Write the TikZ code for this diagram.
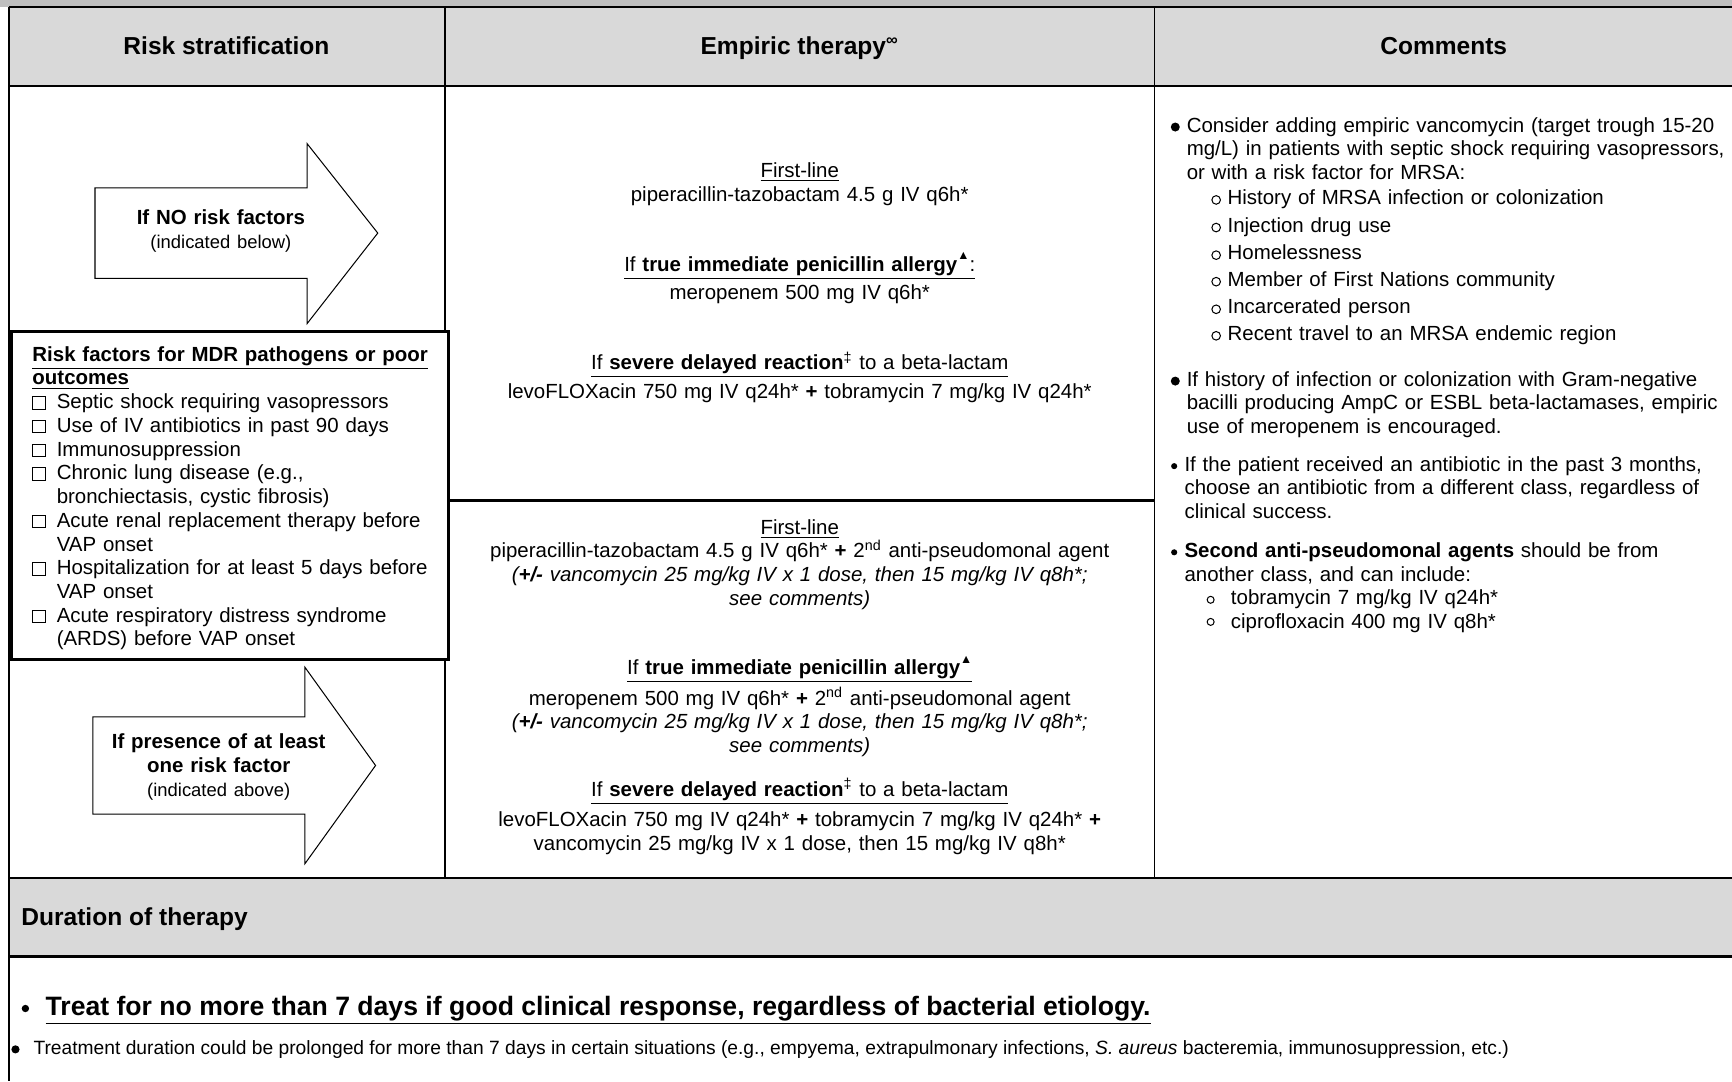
\documentclass[tikz,border=0pt]{standalone}
\usepackage{fontspec}
\setmainfont{Liberation Sans}
\usepackage{tikz}
\usepackage{xcolor}

\newcommand{\cbox}{{\fboxsep=0pt\fboxrule=0.5pt\fbox{\rule{0pt}{5.6pt}\rule{5.6pt}{0pt}}}}
\newcommand{\rfitem}[1]{\par\hangindent=11.9pt\hangafter=1\makebox[11.9pt][l]{\cbox}#1}
\newcommand{\uptri}{\raisebox{0.55em}{\fontsize{6}{6}\selectfont ▲}}

\begin{document}
\begin{tikzpicture}[x=0.54pt, y=-0.54pt,
  txt/.style={inner sep=0pt, anchor=base, font=\fontsize{10}{11.6}\selectfont},
  hdr/.style={inner sep=0pt, anchor=base, font=\bfseries\fontsize{12}{14}\selectfont},
  mid/.style={txt, text width=340pt, align=center},
  cmt/.style={txt, anchor=base west, text width=285pt, align=left},
  rulebold/.style={line width=1.1pt},
  bigarrow/.style={draw, fill=white, line width=0.5pt}]
  \useasboundingbox (0,0) rectangle (1568,979);
  % shaded bands
  \fill[gray!50] (0,0) rectangle (1568,6);
  \foreach \ya/\yb in {6/78, 795/866}
    \fill[gray!30] (8,\ya) rectangle (1568,\yb);
  % rules
  \foreach \y in {6,78,795,866}
    \draw[rulebold] (8,\y) -- (1568,\y);
  \draw[rulebold] (8,6) -- (8,979);
  \foreach \x in {403,1045}
    \draw[line width=0.7pt] (\x,6) -- (\x,795);
  \draw[line width=1.6pt] (403,453) -- (1045,453);

  % headers
  \node[hdr] (hrisk) at (205,49) {Risk stratification};
  \node[hdr] (hemp) at (724,49) {Empiric therapy\textsuperscript{\fontsize{8}{8}\selectfont ∞}};
  \node[hdr] (hcom) at (1307,49) {Comments};

  % risk stratification
  \draw[bigarrow] (86,170) -- (278,170) -- (278,130) -- (342,211) -- (278,293) -- (278,252) -- (86,252) -- cycle;
  \draw[bigarrow] (84,649) -- (276,649) -- (276,604) -- (340,693) -- (276,782) -- (276,737) -- (84,737) -- cycle;
  \node[txt, text width=160pt, align=center] (norisk) at (200,203.5)
    {\textbf{If NO risk factors}\\{\fontsize{9}{11}\selectfont (indicated below)}};
  \node[txt, text width=160pt, align=center] (somerisk) at (198,678)
    {\textbf{If presence of at least}\\\textbf{one risk factor}\\{\fontsize{9}{11}\selectfont (indicated above)}};
  \draw[line width=1.7pt, fill=white] (10,300) rectangle (406,597);
  \node[txt, anchor=base west, text width=205pt, align=left] (riskf) at (29,327)
    {\underline{\textbf{Risk factors for MDR pathogens or poor}}\\\underline{\textbf{outcomes}}%
     \rfitem{Septic shock requiring vasopressors}%
     \rfitem{Use of IV antibiotics in past 90 days}%
     \rfitem{Immunosuppression}%
     \rfitem{Chronic lung disease (e.g.,\newline bronchiectasis, cystic fibrosis)}%
     \rfitem{Acute renal replacement therapy before\newline VAP onset}%
     \rfitem{Hospitalization for at least 5 days before\newline VAP onset}%
     \rfitem{Acute respiratory distress syndrome\newline (ARDS) before VAP onset}\par};

  % empiric therapy
  \node[mid] (fl1) at (724,160.5) {\underline{First-line}\\piperacillin-tazobactam 4.5 g IV q6h*};
  \node[mid] (al1) at (724,245.5) {\underline{If \textbf{true immediate penicillin allergy}\uptri:}\\[2.4pt]meropenem 500 mg IV q6h*};
  \node[mid] (dr1) at (724,334.5) {\underline{If \textbf{severe delayed reaction}\textsuperscript{‡} to a beta-lactam}\\[2.4pt]levoFLOXacin 750 mg IV q24h* \textbf{+} tobramycin 7 mg/kg IV q24h*};
  \node[mid] (fl2) at (724,483.5) {\underline{First-line}\\piperacillin-tazobactam 4.5 g IV q6h* \textbf{+} 2\textsuperscript{nd} anti-pseudomonal agent\\\textit{(\textbf{+/-} vancomycin 25 mg/kg IV x 1 dose, then 15 mg/kg IV q8h*;}\\\textit{see comments)}};
  \node[mid] (al2) at (724,610.5) {\underline{If \textbf{true immediate penicillin allergy}\uptri}\\[1.2pt]meropenem 500 mg IV q6h* \textbf{+} 2\textsuperscript{nd} anti-pseudomonal agent\\\textit{(\textbf{+/-} vancomycin 25 mg/kg IV x 1 dose, then 15 mg/kg IV q8h*;}\\\textit{see comments)}};
  \node[mid] (dr2) at (724,721) {\underline{If \textbf{severe delayed reaction}\textsuperscript{‡} to a beta-lactam}\\[3pt]levoFLOXacin 750 mg IV q24h* \textbf{+} tobramycin 7 mg/kg IV q24h* \textbf{+}\\vancomycin 25 mg/kg IV x 1 dose, then 15 mg/kg IV q8h*};

  % comments
  \foreach \y in {115,345}
    \fill (1064,\y) circle (2.2pt);
  \foreach \y in {422,500}
    \fill (1063,\y) circle (1.5pt);
  \foreach \y in {181,206,231,255,280,304}
    \draw[line width=0.5pt] (1101,\y) circle (2.1pt);
  \foreach \y in {543,563}
    \draw[line width=0.5pt] (1096,\y) circle (1.7pt);
  \node[cmt] (c1) at (1074,119.5) {Consider adding empiric vancomycin (target trough 15-20\\mg/L) in patients with septic shock requiring vasopressors,\\or with a risk factor for MRSA:};
  \node[cmt, font=\fontsize{10}{13.3}\selectfont] (mrsa) at (1111,185.5)
    {History of MRSA infection or colonization\\Injection drug use\\Homelessness\\Member of First Nations community\\Incarcerated person\\Recent travel to an MRSA endemic region};
  \node[cmt] (c2) at (1074,349.5) {If history of infection or colonization with Gram-negative\\bacilli producing AmpC or ESBL beta-lactamases, empiric\\use of meropenem is encouraged.};
  \node[cmt] (c3) at (1072,426.5) {If the patient received an antibiotic in the past 3 months,\\choose an antibiotic from a different class, regardless of\\clinical success.};
  \node[cmt] (c4) at (1072,504.5) {\textbf{Second anti-pseudomonal agents} should be from\\another class, and can include:\\
    \hspace*{22.7pt}tobramycin 7 mg/kg IV q24h*\\\hspace*{22.7pt}ciprofloxacin 400 mg IV q8h*};

  % duration
  \fill (23,913) circle (1.8pt);
  \fill (14,950) circle (2pt);
  \node[hdr, anchor=base west] (dur) at (19,838) {Duration of therapy};
  \node[txt, anchor=base west, font=\bfseries\fontsize{13}{15}\selectfont] (treat) at (41,919)
    {\underline{Treat for no more than 7 days if good clinical response, regardless of bacterial etiology.}};
  \node[txt, anchor=base west, font=\fontsize{9.4}{11}\selectfont] (prolong) at (30,955)
    {Treatment duration could be prolonged for more than 7 days in certain situations (e.g., empyema, extrapulmonary infections, \textit{S. aureus} bacteremia, immunosuppression, etc.)};
\end{tikzpicture}
\end{document}
